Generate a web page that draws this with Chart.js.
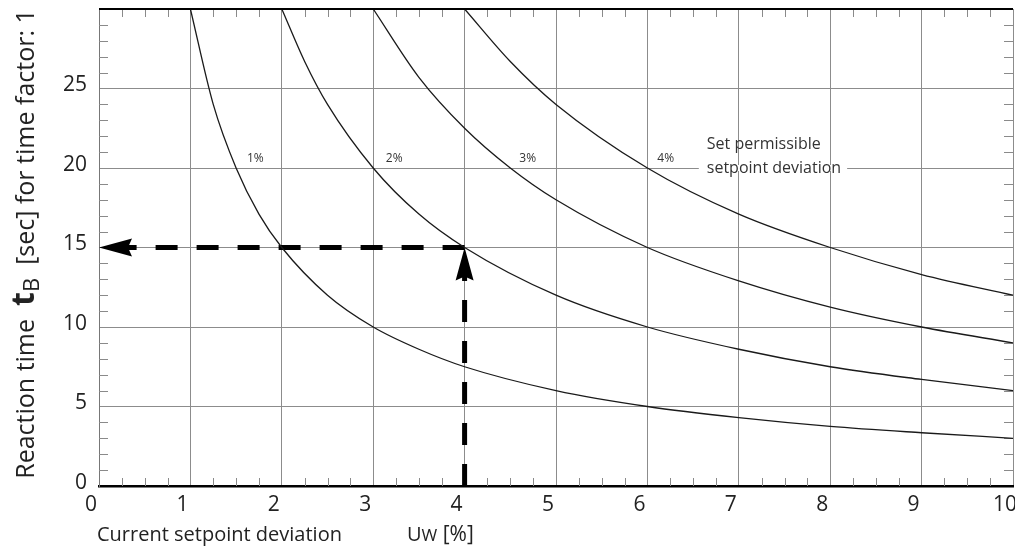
<!DOCTYPE html>
<html>
<head>
<meta charset="utf-8">
<script src="https://cdn.jsdelivr.net/npm/chart.js@4.4.0/dist/chart.umd.min.js"></script>
<style>
html, body { margin: 0; padding: 0; background: #fff; }
</style>
</head>
<body>
<canvas id="myChart" width="1015" height="551"></canvas>
<script>
// values
var dev1 = [1, 1.25, 1.5, 1.75, 2, 2.5, 3, 3.5, 4, 5, 6, 7, 8, 9, 10];
var time1 = [30, 24, 20, 17.1, 15, 12, 10, 8.6, 7.5, 6, 5, 4.3, 3.75, 3.35, 3];
var dev2 = [2, 2.25, 2.5, 3, 3.5, 4, 5, 6, 7, 8, 9, 10];
var time2 = [30, 26.7, 24, 20, 17.1, 15, 12, 10, 8.6, 7.5, 6.7, 6];
var dev3 = [3, 3.5, 4, 4.5, 5, 6, 7, 8, 9, 10];
var time3 = [30, 25.7, 22.5, 20, 18, 15, 12.9, 11.25, 10, 9];
var dev4 = [4, 4.5, 5, 6, 7, 8, 9, 10];
var time4 = [30, 26.7, 24, 20, 17.1, 15, 13.3, 12];
var curveLabels = ['1%', '2%', '3%', '4%'];
var labelX = [1.71, 3.23, 4.69, 6.2];
var labelY = 20.6;
var xTicks = [0, 1, 2, 3, 4, 5, 6, 7, 8, 9, 10];
var yTicks = [0, 5, 10, 15, 20, 25];
// example reading: 4 % deviation -> 15 s
var readDev = 4;
var readTime = 15;

function pts(xs, ys) {
  var out = [];
  for (var i = 0; i < xs.length; i++) out.push({x: xs[i], y: ys[i]});
  return out;
}

function curve(xs, ys) {
  return {
    data: pts(xs, ys),
    showLine: true,
    borderColor: '#1a1a1a',
    borderWidth: 1.3,
    pointRadius: 0,
    cubicInterpolationMode: 'monotone',
    fill: false
  };
}

function arrow(xs, ys) {
  return {
    data: pts(xs, ys),
    showLine: true,
    borderColor: '#000',
    borderWidth: 5,
    borderDash: [22, 19],
    borderCapStyle: 'butt',
    pointRadius: 0,
    fill: false,
    arrow: true
  };
}

var decorations = {
  id: 'decorations',
  beforeDatasetsDraw: function(chart) {
    var ctx = chart.ctx, a = chart.chartArea;
    var xs = chart.scales.x, ys = chart.scales.y;
    ctx.save();
    // minor ticks
    ctx.strokeStyle = '#8a8a8a';
    ctx.lineWidth = 1;
    ctx.beginPath();
    for (var v = 0.25; v < 10; v += 0.25) {
      if (Math.abs(v - Math.round(v)) < 0.01) continue;
      var px = Math.round(xs.getPixelForValue(v)) + 0.5;
      ctx.moveTo(px, a.bottom); ctx.lineTo(px, a.bottom - 8);
      ctx.moveTo(px, a.top); ctx.lineTo(px, a.top + 8);
    }
    for (var w = 1; w < 30; w++) {
      if (w % 5 === 0) continue;
      var py = Math.round(ys.getPixelForValue(w)) + 0.5;
      ctx.moveTo(a.left, py); ctx.lineTo(a.left + 9, py);
      ctx.moveTo(a.right, py); ctx.lineTo(a.right - 9, py);
    }
    ctx.stroke();
    ctx.restore();
  },
  afterDatasetsDraw: function(chart) {
    var ctx = chart.ctx, a = chart.chartArea;
    var xs = chart.scales.x, ys = chart.scales.y;
    ctx.save();
    // top frame
    ctx.strokeStyle = '#000';
    ctx.lineWidth = 2;
    ctx.beginPath();
    ctx.moveTo(a.left, a.top); ctx.lineTo(a.right, a.top);
    ctx.stroke();

    // arrowheads
    chart.data.datasets.forEach(function(ds) {
      if (!ds.arrow) return;
      var n = ds.data.length;
      var tip = ds.data[n - 1], prev = ds.data[n - 2];
      var tx = xs.getPixelForValue(tip.x), ty = ys.getPixelForValue(tip.y);
      var qx = xs.getPixelForValue(prev.x), qy = ys.getPixelForValue(prev.y);
      var ang = Math.atan2(ty - qy, tx - qx);
      var len = 33, half = 9;
      ctx.save();
      ctx.translate(tx, ty);
      ctx.rotate(ang);
      ctx.fillStyle = '#000';
      ctx.beginPath();
      ctx.moveTo(0, 0);
      ctx.lineTo(-len, -half);
      ctx.lineTo(-len + 4, 0);
      ctx.lineTo(-len, half);
      ctx.closePath();
      ctx.fill();
      ctx.restore();
    });

    // curve labels
    ctx.fillStyle = '#333';
    ctx.font = '12px "Open Sans"';
    ctx.textAlign = 'center';
    ctx.textBaseline = 'middle';
    for (var i = 0; i < curveLabels.length; i++) {
      ctx.fillText(curveLabels[i], xs.getPixelForValue(labelX[i]), ys.getPixelForValue(labelY));
    }

    // side note with white background over the grid
    var nx = xs.getPixelForValue(6.65);
    ctx.font = '16px "Open Sans"';
    ctx.textAlign = 'left';
    var w1 = ctx.measureText('setpoint deviation').width;
    ctx.fillStyle = '#fff';
    ctx.fillRect(nx - 8, ys.getPixelForValue(20.0) - 3, w1 + 14, 6);
    ctx.fillStyle = '#333';
    ctx.fillText('Set permissible', nx, ys.getPixelForValue(21.5));
    ctx.fillText('setpoint deviation', nx, ys.getPixelForValue(20.0));

    ctx.restore();
  },
  afterDraw: function(chart) {
    var ctx = chart.ctx;
    ctx.save();
    ctx.fillStyle = '#222';
    ctx.textBaseline = 'alphabetic';
    ctx.textAlign = 'left';

    // x-axis title
    ctx.font = '20px "Open Sans"';
    ctx.fillText('Current setpoint deviation', 97, 541);
    ctx.fillText('U', 407, 541);
    var uw = ctx.measureText('U').width;
    ctx.font = '17px "Open Sans"';
    ctx.fillText('W', 407 + uw, 541);
    var ww = ctx.measureText('W').width;
    ctx.font = '21px "Open Sans"';
    ctx.fillText(' [%]', 407 + uw + ww, 541);

    // y-axis title, rotated
    var parts = [
      {t: 'Reaction time  ', f: '25px "Open Sans"', dy: 0},
      {t: 't', f: 'bold 32px "Open Sans"', dy: 0},
      {t: 'B', f: '22px "Open Sans"', dy: 5},
      {t: '  [sec] for time factor: 1', f: '25px "Open Sans"', dy: 0}
    ];
    var total = 0;
    parts.forEach(function(p) { ctx.font = p.f; p.w = ctx.measureText(p.t).width; total += p.w; });
    ctx.translate(34, 244);
    ctx.rotate(-Math.PI / 2);
    var cx = -total / 2;
    parts.forEach(function(p) {
      ctx.font = p.f;
      ctx.fillText(p.t, cx, p.dy);
      cx += p.w;
    });
    ctx.restore();
  }
};

var ctx = document.getElementById('myChart');
var myChart = new Chart(ctx, {
  type: 'scatter',
  data: {
    datasets: [
      curve(dev1, time1),
      curve(dev2, time2),
      curve(dev3, time3),
      curve(dev4, time4),
      arrow([readDev, readDev], [0, readTime]),
      arrow([readDev, 0], [readTime, readTime])
    ]
  },
  options: {
    responsive: false,
    animation: false,
    devicePixelRatio: 1,
    layout: { padding: { top: 9, right: 2, left: 0, bottom: 0 } },
    plugins: {
      legend: { display: false },
      tooltip: { enabled: false }
    },
    scales: {
      x: {
        type: 'linear',
        min: 0,
        max: 10,
        afterBuildTicks: function(scale) {
          scale.ticks = xTicks.map(function(v) { return {value: v}; });
        },
        afterFit: function(scale) {
          scale.height = 65;
          scale.paddingLeft = 0;
          scale.paddingRight = 0;
        },
        ticks: {
          color: '#222',
          font: { family: 'Open Sans', size: 21 },
          padding: 6,
          labelOffset: -8,
          maxRotation: 0
        },
        grid: { color: '#8c8c8c', lineWidth: 1, drawTicks: false },
        border: { display: true, color: '#000', width: 2.5 }
      },
      y: {
        min: 0,
        max: 30,
        afterBuildTicks: function(scale) {
          scale.ticks = yTicks.map(function(v) { return {value: v}; });
        },
        afterFit: function(scale) {
          scale.width = 99;
          scale.paddingTop = 0;
          scale.paddingBottom = 0;
        },
        ticks: {
          color: '#222',
          font: { family: 'Open Sans', size: 21 },
          padding: 12,
          labelOffset: -3
        },
        grid: { color: '#8c8c8c', lineWidth: 1, drawTicks: false },
        border: { display: true, color: '#777', width: 1 }
      }
    }
  },
  plugins: [decorations]
});
</script>
</body>
</html>
